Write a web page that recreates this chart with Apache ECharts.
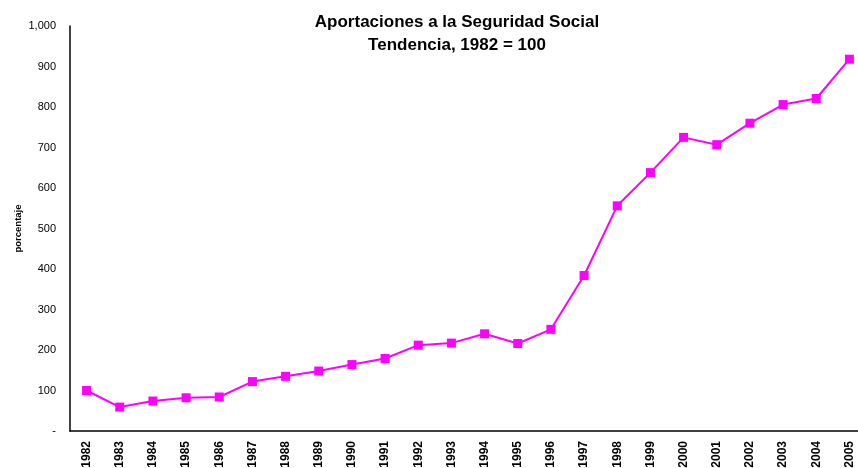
<!DOCTYPE html>
<html>
<head>
<meta charset="utf-8">
<script src="https://cdn.jsdelivr.net/npm/echarts@6/dist/echarts.min.js"></script>
<style>
  html, body { margin: 0; padding: 0; background: #fff; overflow: hidden; }
  #chart { width: 858px; height: 468px; }
</style>
</head>
<body>
<div id="chart"></div>
<script>
const years = ["1982", "1983", "1984", "1985", "1986", "1987", "1988", "1989", "1990", "1991", "1992", "1993",
  "1994", "1995", "1996", "1997", "1998", "1999", "2000", "2001", "2002", "2003", "2004", "2005"];
const aportaciones = [100, 59, 74, 82, 84, 122, 135, 148, 164, 179, 212, 217,
  240, 216, 251, 384, 556, 638, 725, 707, 760, 806, 821, 918];

const chart = echarts.init(document.getElementById("chart"));
chart.setOption({
  animation: false,
  backgroundColor: "#fff",
  title: {
    text: "Aportaciones a la Seguridad Social\nTendencia, 1982 = 100",
    left: 452,
    top: 6,
    textAlign: "center",
    textStyle: {
      fontFamily: "Liberation Sans",
      fontSize: 17,
      fontWeight: "bold",
      color: "#000",
      lineHeight: 23,
    },
  },
  grid: {
    left: 70,
    right: -8,
    top: 26,
    bottom: 37,
    outerBoundsMode: "none",
  },
  xAxis: {
    type: "category",
    data: years,
    boundaryGap: true,
    axisLine: { lineStyle: { color: "#000", width: 1.5 } },
    axisTick: { show: false },
    axisLabel: {
      rotate: 90,
      interval: 0,
      margin: 10,
      fontFamily: "Liberation Sans",
      fontSize: 12,
      fontWeight: "bold",
      color: "#000",
    },
  },
  yAxis: {
    type: "value",
    min: 0,
    max: 1000,
    interval: 100,
    name: "porcentaje",
    nameLocation: "middle",
    nameRotate: 90,
    nameGap: 47,
    nameMoveOverlap: false,
    nameTextStyle: {
      fontFamily: "Liberation Sans",
      fontSize: 9.5,
      fontWeight: "bold",
      color: "#000",
    },
    axisLine: { show: true, lineStyle: { color: "#000", width: 1.5 } },
    axisTick: { show: false },
    splitLine: { show: false },
    axisLabel: {
      margin: 14,
      fontFamily: "Liberation Sans",
      fontSize: 11,
      color: "#000",
      formatter: (v) => (v === 0 ? "-" : v.toLocaleString("en-US")),
    },
  },
  series: [
    {
      name: "Aportaciones",
      type: "line",
      data: aportaciones,
      symbol: "rect",
      symbolSize: 9,
      lineStyle: { color: "#ff00ff", width: 2 },
      itemStyle: { color: "#ff00ff" },
    },
  ],
});
</script>
</body>
</html>
